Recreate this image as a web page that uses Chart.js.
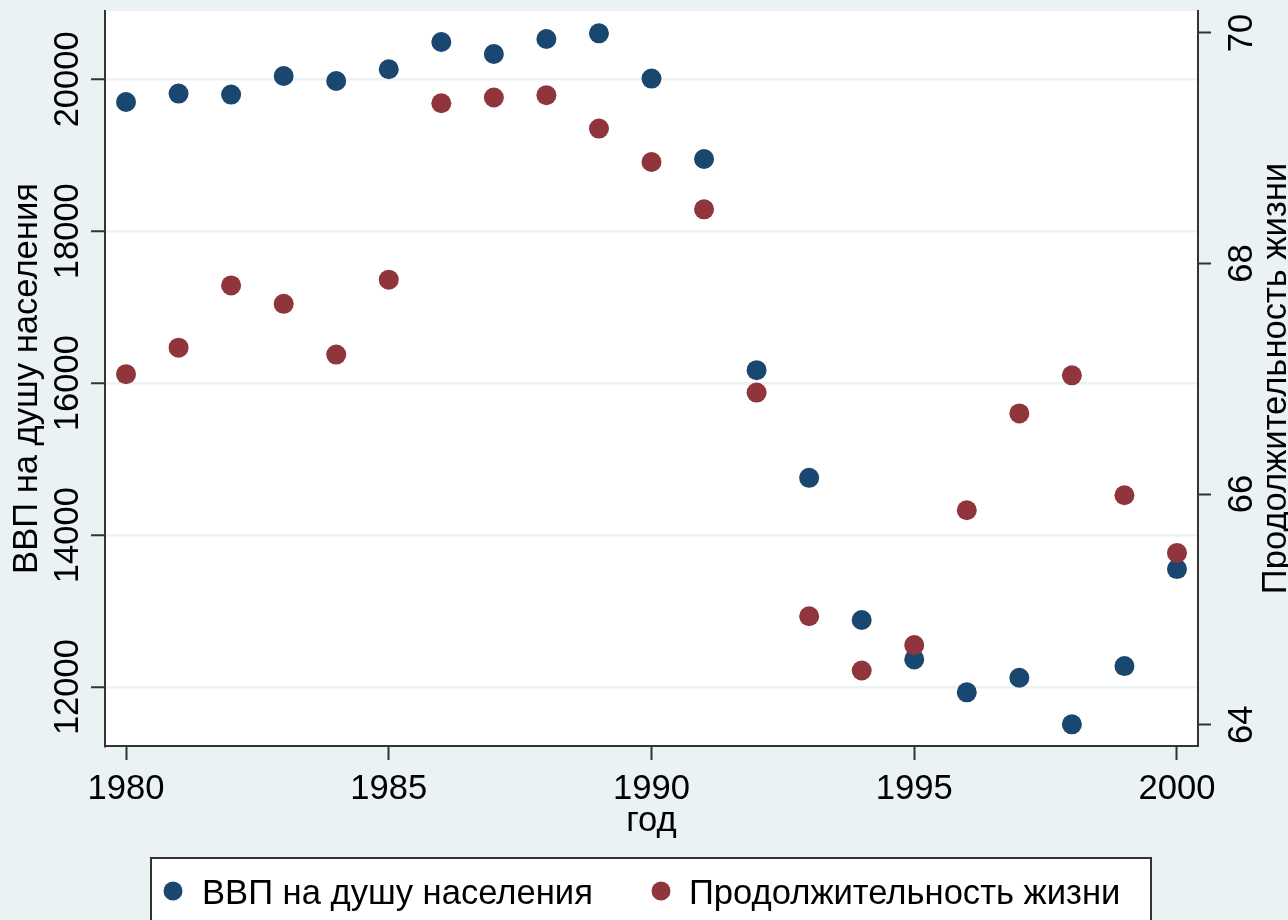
<!DOCTYPE html>
<html>
<head>
<meta charset="utf-8">
<script src="https://cdn.jsdelivr.net/npm/chart.js@4"></script>
<style>
  body { margin: 0; background: #EAF2F3; }
  #wrap { width: 1288px; height: 920px; }
</style>
</head>
<body>
<div id="wrap"><canvas id="myChart" width="1288" height="920"></canvas></div>
<script>
const years = [1980, 1981, 1982, 1983, 1984, 1985, 1986, 1987, 1988, 1989, 1990,
               1991, 1992, 1993, 1994, 1995, 1996, 1997, 1998, 1999, 2000];
const gdpPerCapita = [19701, 19812, 19799, 20043, 19978, 20132, 20491, 20333, 20530, 20605, 20009,
                      18951, 16171, 14754, 12882, 12364, 11930, 12122, 11509, 12276, 13553];
const lifeExpectancy = [67.04, 67.27, 67.81, 67.65, 67.21, 67.86, 69.39, 69.44, 69.46, 69.17, 68.88,
                        68.47, 66.88, 64.94, 64.47, 64.69, 65.86, 66.70, 67.03, 65.99, 65.49];

const xTicks = [1980, 1985, 1990, 1995, 2000];
const gdpTicks = [12000, 14000, 16000, 18000, 20000];
const lifeTicks = [64, 66, 68, 70];

const gdpLabel = 'ВВП на душу населения';
const lifeLabel = 'Продолжительность жизни';
const xLabel = 'год';

const bg = '#EAF2F3';
const axisColor = '#333333';
const fontFamily = '"Liberation Sans", Arial, sans-serif';
const font = '34.6px ' + fontFamily;

// background + white plot area
const backdrop = {
    id: 'backdrop',
    beforeDraw(chart) {
        const {ctx, chartArea: a} = chart;
        ctx.save();
        ctx.fillStyle = bg;
        ctx.fillRect(0, 0, chart.width, chart.height);
        ctx.fillStyle = '#fff';
        ctx.fillRect(a.left, a.top, a.right - a.left, a.bottom - a.top);
        ctx.restore();
    }
};

// rotated tick labels, axis titles and boxed legend, stata style
const labels = {
    id: 'labels',
    afterDraw(chart) {
        const {ctx, chartArea: a} = chart;
        const {x, yL, yR} = chart.scales;
        ctx.save();
        ctx.fillStyle = '#000';
        ctx.font = font;

        function vText(str, px, py) {
            ctx.save();
            ctx.translate(px, py);
            ctx.rotate(-Math.PI / 2);
            ctx.textAlign = 'center';
            ctx.textBaseline = 'alphabetic';
            ctx.fillText(str, 0, 0);
            ctx.restore();
        }

        yL.ticks.forEach(t => vText(String(t.value), 78, yL.getPixelForValue(t.value)));
        yR.ticks.forEach(t => vText(String(t.value), 1252, yR.getPixelForValue(t.value)));

        ctx.textAlign = 'center';
        ctx.textBaseline = 'alphabetic';
        x.ticks.forEach(t => ctx.fillText(String(t.value), x.getPixelForValue(t.value), 799));

        const midY = (a.top + a.bottom) / 2;
        vText(gdpLabel, 37, midY);
        vText(lifeLabel, 1286, midY);
        ctx.fillText(xLabel, (a.left + a.right) / 2, 831);

        // legend
        ctx.fillStyle = '#fff';
        ctx.fillRect(151, 858, 1000, 80);
        ctx.strokeStyle = axisColor;
        ctx.lineWidth = 2;
        ctx.strokeRect(151, 858, 1000, 80);
        const ds = chart.data.datasets;
        const items = [[173, 202, ds[0]], [661, 689, ds[1]]];
        ctx.textAlign = 'left';
        items.forEach(([mx, tx, d]) => {
            ctx.fillStyle = d.backgroundColor;
            ctx.beginPath();
            ctx.arc(mx, 891, 9.5, 0, Math.PI * 2);
            ctx.fill();
            ctx.fillStyle = '#000';
            ctx.fillText(d.label, tx, 904);
        });
        ctx.restore();
    }
};

const setTicks = list => scale => { scale.ticks = list.map(v => ({value: v})); };

const chart = new Chart(document.getElementById('myChart').getContext('2d'), {
    type: 'scatter',
    data: {
        datasets: [{
            label: gdpLabel,
            data: years.map((yr, i) => ({x: yr, y: gdpPerCapita[i]})),
            yAxisID: 'yL',
            backgroundColor: '#1A476F',
            borderWidth: 0,
            pointRadius: 10,
            order: 2
        }, {
            label: lifeLabel,
            data: years.map((yr, i) => ({x: yr, y: lifeExpectancy[i]})),
            yAxisID: 'yR',
            backgroundColor: '#90353B',
            borderWidth: 0,
            pointRadius: 10,
            order: 1
        }]
    },
    options: {
        responsive: false,
        animation: false,
        devicePixelRatio: 1,
        layout: { padding: { top: 11, left: 0, right: 0, bottom: 0 } },
        plugins: {
            legend: { display: false },
            tooltip: { enabled: false }
        },
        scales: {
            x: {
                type: 'linear',
                position: 'bottom',
                min: 1979.6,
                max: 2000.4,
                afterBuildTicks: setTicks(xTicks),
                afterFit(scale) { scale.height = 174; },
                ticks: { display: false },
                grid: { drawOnChartArea: false, tickLength: 14, tickColor: axisColor, tickWidth: 2 },
                border: { color: axisColor, width: 2 }
            },
            yL: {
                type: 'linear',
                position: 'left',
                min: 11224,
                max: 20899,
                afterBuildTicks: setTicks(gdpTicks),
                afterFit(scale) { scale.width = 105; },
                ticks: { display: false },
                grid: { color: bg, lineWidth: 2.5, tickLength: 14, tickColor: axisColor, tickWidth: 2 },
                border: { color: axisColor, width: 2 }
            },
            yR: {
                type: 'linear',
                position: 'right',
                min: 63.815,
                max: 70.19,
                afterBuildTicks: setTicks(lifeTicks),
                afterFit(scale) { scale.width = 90; },
                ticks: { display: false },
                grid: { drawOnChartArea: false, tickLength: 13, tickColor: axisColor, tickWidth: 2 },
                border: { color: axisColor, width: 2 }
            }
        }
    },
    plugins: [backdrop, labels]
});
</script>
</body>
</html>
